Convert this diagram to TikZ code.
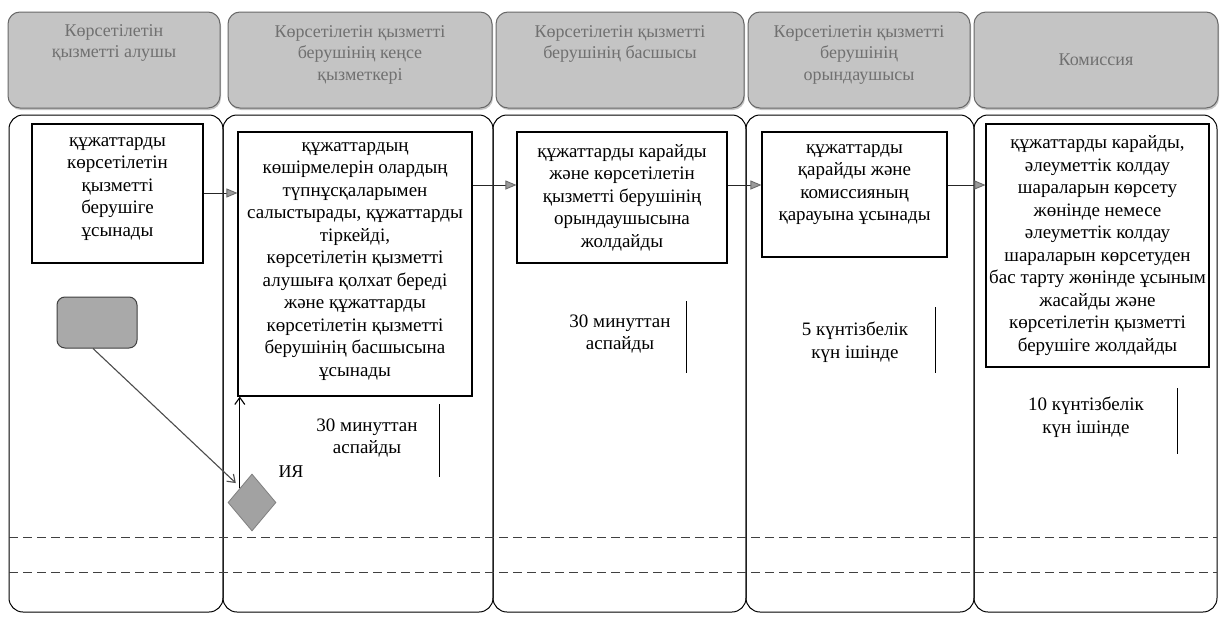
\documentclass[tikz,border=0pt]{standalone}
\usepackage{fontspec}
\setmainfont{Liberation Serif}
\usetikzlibrary{arrows.meta,shapes.geometric,shadows}
\definecolor{hdrfill}{HTML}{C4C4C4}
\definecolor{hdrdraw}{HTML}{686868}
\definecolor{hdrtext}{HTML}{707070}
\definecolor{startfill}{HTML}{A9A9A9}
\definecolor{diafill}{HTML}{A2A2A2}
\definecolor{headfill}{HTML}{9A9A9A}
\definecolor{headdraw}{HTML}{6A6A6A}
\newcommand{\padbelow}[1]{\rule[-#1pt]{0pt}{#1pt}}
\begin{document}
\begin{tikzpicture}[x=1pt,y=-1pt,
  lane/.style={draw=black, line width=1pt, rounded corners=14pt, minimum height=497pt, inner sep=0pt},
  hdr/.style={draw=hdrdraw, fill=hdrfill, line width=1pt, rounded corners=12pt, minimum height=96pt,
    text=hdrtext, align=center, font=\fontsize{18}{21.5}\selectfont, inner sep=2pt,
    drop shadow={shadow xshift=1pt, shadow yshift=-2pt, opacity=0.45}},
  box/.style={draw=black, fill=white, line width=1.1pt, align=center, inner sep=2pt,
    font=\fontsize{19}{22.5}\selectfont},
  lbl/.style={align=center, inner sep=0pt, font=\fontsize{19}{22.5}\selectfont},
  startbox/.style={draw=black!75, fill=startfill, line width=1pt, rounded corners=8pt,
    minimum width=80pt, minimum height=51pt, inner sep=0pt},
  dia/.style={diamond, draw=black!50, fill=diafill, line width=0.8pt, aspect=0.84,
    minimum width=48pt, minimum height=57pt, inner sep=0pt},
  flow/.style={draw=black!85, line width=0.9pt,
    -{Triangle[length=11pt,width=9pt,fill=headfill,color=headdraw]}},
  barb/.style={line width=1.1pt, -{Straight Barb[length=7pt,width=10pt]}},
  tick/.style={draw=black, line width=1pt},
  dashline/.style={draw=black!75, line width=1pt, dash pattern=on 9pt off 5pt}
]
\useasboundingbox (0,0) rectangle (1221,616);
\fill[white] (0,0) rectangle (1221,616);

% lanes
\node[lane, minimum width=214pt] (l1) at (116,363.5) {};
\node[lane, minimum width=270pt] (l2) at (358,363.5) {};
\node[lane, minimum width=253pt] (l3) at (619.5,363.5) {};
\node[lane, minimum width=228pt] (l4) at (860,363.5) {};
\node[lane, minimum width=243pt] (l5) at (1095.5,363.5) {};

% headers
\node[hdr, minimum width=212pt] (h1) at (114,60) {Көрсетілетін\\қызметті алушы\padbelow{38}};
\node[hdr, minimum width=264pt] (h2) at (360,60) {Көрсетілетін қызметті\\берушінің кеңсе\\қызметкері\padbelow{14}};
\node[hdr, minimum width=248pt] (h3) at (620,60) {Көрсетілетін қызметті\\берушінің басшысы\padbelow{36}};
\node[hdr, minimum width=222pt] (h4) at (859,60) {Көрсетілетін қызметті\\берушінің\\орындаушысы\padbelow{14}};
\node[hdr, minimum width=244pt] (h5) at (1096,60) {Комиссия};

% process boxes
\node[box, minimum width=171pt, minimum height=139pt] (A) at (117.5,193.5)
  {құжаттарды\\көрсетілетін\\қызметті\\берушіге\\ұсынады\padbelow{13}};
\node[box, minimum width=234pt, minimum height=264pt] (B) at (355,264)
  {құжаттардың\\көшірмелерін олардың\\түпнұсқаларымен\\салыстырады, құжаттарды\\тіркейді,\\көрсетілетін қызметті\\алушыға қолхат береді\\және құжаттарды\\көрсетілетін қызметті\\берушінің басшысына\\ұсынады\padbelow{9}};
\node[box, minimum width=210pt, minimum height=131pt] (C) at (622,197.5)
  {құжаттарды карайды\\және көрсетілетін\\қызметті берушінің\\орындаушысына\\жолдайды};
\node[box, minimum width=185pt, minimum height=125pt] (D) at (854.5,194.5)
  {құжаттарды\\қарайды және\\комиссияның\\қарауына ұсынады\padbelow{24}};
\node[box, minimum width=223pt, minimum height=243pt] (E) at (1097.5,245.5)
  {құжаттарды карайды,\\әлеуметтік колдау\\шараларын көрсету\\жөнінде немесе\\әлеуметтік колдау\\шараларын көрсетуден\\бас тарту жөнінде ұсыным\\жасайды және\\көрсетілетін қызметті\\берушіге жолдайды};

% start and decision
\node[startbox] (S) at (97,322.5) {};
\node[dia] (Y) at (252,502.5) {};
\node[inner sep=0pt, font=\fontsize{18}{20}\selectfont] (ya) at (291,472) {ИЯ};

% time labels
\node[lbl] (t2) at (367,438) {30 минуттан\\аспайды};
\node[lbl] (t3) at (620,334) {30 минуттан\\аспайды};
\node[lbl] (t4) at (855,342) {5 күнтізбелік\\күн ішінде};
\node[lbl] (t5) at (1086,417) {10 күнтізбелік\\күн ішінде};
\coordinate (m2a) at (439,404); \coordinate (m2b) at (439,477);
\coordinate (m3a) at (686,301); \coordinate (m3b) at (686,373);
\coordinate (m4a) at (935,307); \coordinate (m4b) at (935,373);
\coordinate (m5a) at (1177,388); \coordinate (m5b) at (1177,454);
\draw[tick] (m2a) -- (m2b);
\draw[tick] (m3a) -- (m3b);
\draw[tick] (m4a) -- (m4b);
\draw[tick] (m5a) -- (m5b);

% connectors
\draw[flow] ([yshift=0.5pt]A.east) -- ([yshift=0.5pt]A.east -| B.west);
\draw[flow] ([yshift=12.5pt]C.west -| B.east) -- ([yshift=12.5pt]C.west);
\draw[flow] ([yshift=9.5pt]D.west -| C.east) -- ([yshift=9.5pt]D.west);
\draw[flow] ([yshift=9.5pt]D.east) -- ([yshift=9.5pt]D.east -| E.west);
\draw[barb, draw=black!70] ([xshift=-4pt]S.south) -- ([xshift=-4pt,yshift=5pt]Y.north west);
\draw[barb, draw=black] (Y.north west) -- (Y.north west |- B.south);

% dashed separators
\coordinate (d1a) at (9,537); \coordinate (d1b) at (1217,537);
\coordinate (d2a) at (9,572); \coordinate (d2b) at (1217,572);
\draw[dashline] (d1a) -- (d1b);
\draw[dashline] (d2a) -- (d2b);
\end{tikzpicture}
\end{document}
